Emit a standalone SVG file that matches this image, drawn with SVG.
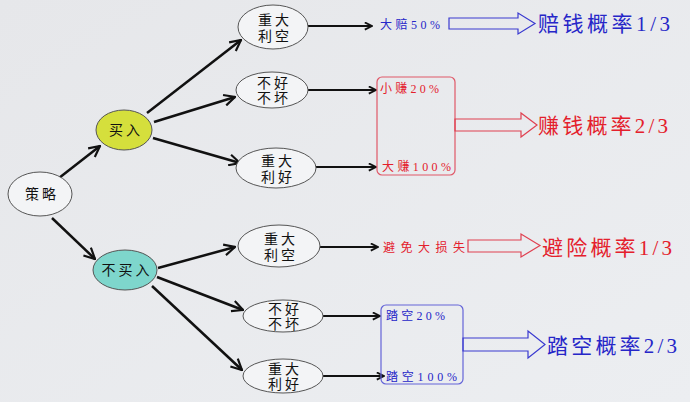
<svg xmlns="http://www.w3.org/2000/svg" width="690" height="402" viewBox="0 0 690 402">
<defs>
<linearGradient id="bg" x1="0" y1="0" x2="1" y2="1">
<stop offset="0" stop-color="#e6e7ea"/>
<stop offset="1" stop-color="#eceef1"/>
</linearGradient>
<marker id="ah" viewBox="0 0 12 12" refX="11" refY="6" markerWidth="13" markerHeight="13" markerUnits="userSpaceOnUse" orient="auto">
<path d="M1,1 L11,6 L1,11" fill="none" stroke="#111" stroke-width="2"/>
</marker>
<marker id="sh" viewBox="0 0 10 10" refX="9" refY="5" markerWidth="9" markerHeight="9" markerUnits="userSpaceOnUse" orient="auto">
<path d="M1,1 L9,5 L1,9" fill="none" stroke="#111" stroke-width="2"/>
</marker>
</defs>
<style>
.node ellipse{stroke:#555;stroke-width:1;fill:#f3f4f6}
.nt{font-family:"Liberation Serif","Noto Sans CJK SC",serif;font-size:14px;fill:#111;text-anchor:middle;letter-spacing:3px}
.edge{stroke:#111;stroke-width:2.5;fill:none;marker-end:url(#ah)}
.lead{stroke:#111;stroke-width:2;fill:none;marker-end:url(#sh)}
.sm{font-family:"Liberation Serif","Noto Sans CJK SC",serif;font-size:12px}
.big{font-family:"Liberation Serif","Noto Sans CJK SC",serif;font-size:21px}
.blue{fill:#2626c8}
.red{fill:#e4202c}
.hb{fill:none;stroke:#3a3ad0;stroke-width:1.2}
.hr{fill:none;stroke:#e04050;stroke-width:1.2}
</style>
<rect width="690" height="402" fill="url(#bg)"/>

<g id="connectors">
<line class="edge" x1="59" y1="178" x2="100" y2="146"/>
<line class="edge" x1="52" y1="218" x2="95" y2="259"/>
<line class="edge" x1="147" y1="113" x2="241" y2="40"/>
<line class="edge" x1="154" y1="122" x2="235" y2="97"/>
<line class="edge" x1="153" y1="138" x2="240" y2="163"/>
<line class="edge" x1="158" y1="268" x2="235" y2="247"/>
<line class="edge" x1="157" y1="277" x2="243" y2="310"/>
<line class="edge" x1="152" y1="286" x2="242" y2="370"/>
<line class="lead" x1="308" y1="26" x2="372" y2="26"/>
<line class="lead" x1="308" y1="90" x2="376" y2="90"/>
<line class="lead" x1="316" y1="167" x2="376" y2="167"/>
<line class="lead" x1="320" y1="247" x2="378" y2="247"/>
<line class="lead" x1="323" y1="316" x2="380" y2="316"/>
<line class="lead" x1="323" y1="376" x2="384" y2="376"/>
</g>

<g id="n-celue" class="node">
<ellipse cx="40" cy="194" rx="32" ry="22"/>
<text class="nt" x="42" y="199">策略</text>
</g>
<g id="n-mairu" class="node">
<ellipse cx="124" cy="130" rx="28" ry="20" style="fill:#d5df3c"/>
<text class="nt" x="126" y="135">买入</text>
</g>
<g id="n-bumairu" class="node">
<ellipse cx="125" cy="270" rx="32" ry="20" style="fill:#7ed6cc"/>
<text class="nt" x="127" y="275">不买入</text>
</g>
<g id="n-a1" class="node">
<ellipse cx="273" cy="27" rx="35" ry="22"/>
<text class="nt" x="275" y="25">重大</text>
<text class="nt" x="275" y="41">利空</text>
</g>
<g id="n-a2" class="node">
<ellipse cx="272" cy="90" rx="36" ry="18"/>
<text class="nt" x="274" y="88">不好</text>
<text class="nt" x="274" y="103">不坏</text>
</g>
<g id="n-a3" class="node">
<ellipse cx="276" cy="168" rx="40" ry="20"/>
<text class="nt" x="278" y="166">重大</text>
<text class="nt" x="278" y="182">利好</text>
</g>
<g id="n-b1" class="node">
<ellipse cx="279" cy="246" rx="41" ry="21"/>
<text class="nt" x="281" y="244">重大</text>
<text class="nt" x="281" y="260">利空</text>
</g>
<g id="n-b2" class="node">
<ellipse cx="283" cy="316" rx="40" ry="16"/>
<text class="nt" x="285" y="314">不好</text>
<text class="nt" x="285" y="329">不坏</text>
</g>
<g id="n-b3" class="node">
<ellipse cx="283" cy="376" rx="40" ry="17"/>
<text class="nt" x="285" y="374">重大</text>
<text class="nt" x="285" y="389">利好</text>
</g>

<g id="r-peiqian">
<text class="sm blue" x="380" y="29" textLength="60" lengthAdjust="spacing">大赔50%</text>
<polygon class="hb" points="449,18 518,18 518,13 535,23.5 518,34 518,29 449,29"/>
<text class="big blue" x="538" y="31" textLength="132" lengthAdjust="spacing">赔钱概率1/3</text>
</g>

<g id="r-zhuanqian">
<rect x="377" y="77" width="78" height="98" rx="5" fill="none" stroke="#e05868" stroke-width="1.2"/>
<text class="sm red" x="380" y="93" textLength="59" lengthAdjust="spacing">小赚20%</text>
<text class="sm red" x="382" y="171" textLength="69" lengthAdjust="spacing">大赚100%</text>
<polygon class="hr" points="455,119 521,119 521,113 537,125 521,137 521,131 455,131"/>
<text class="big red" x="538" y="133" textLength="130" lengthAdjust="spacing">赚钱概率2/3</text>
</g>

<g id="r-bixian">
<text class="sm red" x="383" y="252" textLength="82" lengthAdjust="spacing">避免大损失</text>
<polygon class="hr" points="468,240 521,240 521,234 540,245.5 521,257 521,252 468,252"/>
<text class="big red" x="542" y="255" textLength="130" lengthAdjust="spacing">避险概率1/3</text>
</g>

<g id="r-takong">
<rect x="381" y="305" width="82" height="79" rx="5" fill="none" stroke="#6464d8" stroke-width="1.2"/>
<text class="sm blue" x="386" y="320" textLength="59" lengthAdjust="spacing">踏空20%</text>
<text class="sm blue" x="386" y="381" textLength="71" lengthAdjust="spacing">踏空100%</text>
<polygon class="hb" points="463,338 528,338 528,331 545,344.5 528,358 528,351 463,351"/>
<text class="big blue" x="547" y="353" textLength="130" lengthAdjust="spacing">踏空概率2/3</text>
</g>
</svg>
